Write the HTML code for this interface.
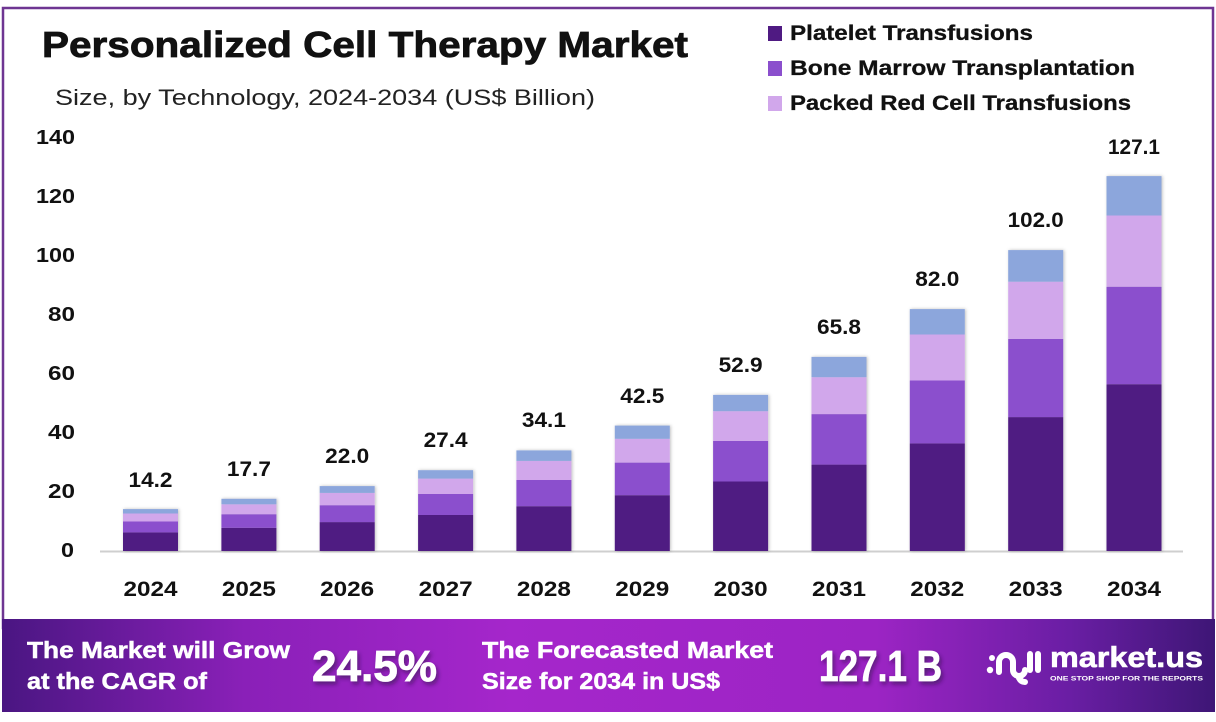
<!DOCTYPE html>
<html><head><meta charset="utf-8"><style>
html,body{margin:0;padding:0;background:#fff;}
svg{display:block;}
text{font-family:"Liberation Sans",sans-serif;}
</style></head><body>
<svg width="1216" height="722" viewBox="0 0 1216 722" xmlns="http://www.w3.org/2000/svg">
<defs>
<linearGradient id="fg" x1="0" y1="0" x2="1" y2="0">
<stop offset="0" stop-color="#4a1682"/>
<stop offset="0.2" stop-color="#8a20b8"/>
<stop offset="0.42" stop-color="#a526cb"/>
<stop offset="0.72" stop-color="#9c24c4"/>
<stop offset="0.88" stop-color="#6a1ea4"/>
<stop offset="1" stop-color="#3e1676"/>
</linearGradient>
<filter id="sh" x="-20%" y="-5%" width="140%" height="110%">
<feDropShadow dx="1" dy="0" stdDeviation="1.5" flood-color="#000" flood-opacity="0.25"/>
</filter>
<filter id="ts" x="-10%" y="-20%" width="130%" height="160%">
<feDropShadow dx="2" dy="3" stdDeviation="2" flood-color="#2a0a40" flood-opacity="0.55"/>
</filter>
</defs>
<rect x="0" y="0" width="1216" height="722" fill="#fff"/>
<!-- frame -->
<rect x="3" y="8" width="1210" height="620" fill="none" stroke="#6e3592" stroke-width="2.5"/>

<!-- title -->
<text x="42" y="57" font-size="36" font-weight="bold" fill="#111" stroke="#111" stroke-width="0.8" textLength="646" lengthAdjust="spacingAndGlyphs">Personalized Cell Therapy Market</text>
<text x="55" y="105" font-size="22" fill="#222" textLength="540" lengthAdjust="spacingAndGlyphs">Size, by Technology, 2024-2034 (US$ Billion)</text>

<!-- legend -->
<rect x="768" y="26" width="14" height="15" fill="#4f1a82"/>
<text x="790" y="40" font-size="21" font-weight="bold" fill="#111" stroke="#111" stroke-width="0.3" textLength="243" lengthAdjust="spacingAndGlyphs">Platelet Transfusions</text>
<rect x="768" y="61" width="14" height="15" fill="#8b4fcd"/>
<text x="790" y="75" font-size="21" font-weight="bold" fill="#111" stroke="#111" stroke-width="0.3" textLength="345" lengthAdjust="spacingAndGlyphs">Bone Marrow Transplantation</text>
<rect x="768" y="96" width="14" height="15" fill="#d1a7eb"/>
<text x="790" y="110" font-size="21" font-weight="bold" fill="#111" stroke="#111" stroke-width="0.3" textLength="341" lengthAdjust="spacingAndGlyphs">Packed Red Cell Transfusions</text>

<!-- y axis labels -->
<g font-size="20" font-weight="bold" fill="#111">
<text x="36" y="144" textLength="39" lengthAdjust="spacingAndGlyphs">140</text>
<text x="36" y="203" textLength="39" lengthAdjust="spacingAndGlyphs">120</text>
<text x="36" y="262" textLength="39" lengthAdjust="spacingAndGlyphs">100</text>
<text x="48" y="321" textLength="27" lengthAdjust="spacingAndGlyphs">80</text>
<text x="48" y="380" textLength="27" lengthAdjust="spacingAndGlyphs">60</text>
<text x="48" y="439" textLength="27" lengthAdjust="spacingAndGlyphs">40</text>
<text x="48" y="498" textLength="27" lengthAdjust="spacingAndGlyphs">20</text>
<text x="61" y="557" textLength="13" lengthAdjust="spacingAndGlyphs">0</text>
</g>

<!-- axis line -->
<line x1="100" y1="551.5" x2="1183" y2="551.5" stroke="#cfcfcf" stroke-width="2"/>

<!-- bars -->
<g filter="url(#sh)">
<rect x="123" y="532.4" width="55" height="18.6" fill="#4f1a82"/>
<rect x="123" y="521.5" width="55" height="10.9" fill="#8b4fcd"/>
<rect x="123" y="513.5" width="55" height="8.0" fill="#d1a7eb"/>
<rect x="123" y="509.1" width="55" height="4.4" fill="#8ca6dc"/>
<rect x="221.4" y="527.8" width="55" height="23.2" fill="#4f1a82"/>
<rect x="221.4" y="514.2" width="55" height="13.6" fill="#8b4fcd"/>
<rect x="221.4" y="504.3" width="55" height="9.9" fill="#d1a7eb"/>
<rect x="221.4" y="498.8" width="55" height="5.5" fill="#8ca6dc"/>
<rect x="319.7" y="522.1" width="55" height="28.9" fill="#4f1a82"/>
<rect x="319.7" y="505.2" width="55" height="16.9" fill="#8b4fcd"/>
<rect x="319.7" y="492.9" width="55" height="12.3" fill="#d1a7eb"/>
<rect x="319.7" y="486.1" width="55" height="6.8" fill="#8ca6dc"/>
<rect x="418.1" y="515.0" width="55" height="36.0" fill="#4f1a82"/>
<rect x="418.1" y="494.0" width="55" height="21.0" fill="#8b4fcd"/>
<rect x="418.1" y="478.6" width="55" height="15.4" fill="#d1a7eb"/>
<rect x="418.1" y="470.2" width="55" height="8.4" fill="#8ca6dc"/>
<rect x="516.4" y="506.2" width="55" height="44.8" fill="#4f1a82"/>
<rect x="516.4" y="480.0" width="55" height="26.2" fill="#8b4fcd"/>
<rect x="516.4" y="460.9" width="55" height="19.1" fill="#d1a7eb"/>
<rect x="516.4" y="450.4" width="55" height="10.5" fill="#8ca6dc"/>
<rect x="614.8" y="495.2" width="55" height="55.8" fill="#4f1a82"/>
<rect x="614.8" y="462.6" width="55" height="32.6" fill="#8b4fcd"/>
<rect x="614.8" y="438.8" width="55" height="23.8" fill="#d1a7eb"/>
<rect x="614.8" y="425.6" width="55" height="13.2" fill="#8ca6dc"/>
<rect x="713.1" y="481.5" width="55" height="69.5" fill="#4f1a82"/>
<rect x="713.1" y="440.9" width="55" height="40.6" fill="#8b4fcd"/>
<rect x="713.1" y="411.2" width="55" height="29.7" fill="#d1a7eb"/>
<rect x="713.1" y="394.9" width="55" height="16.3" fill="#8ca6dc"/>
<rect x="811.5" y="464.6" width="55" height="86.4" fill="#4f1a82"/>
<rect x="811.5" y="414.1" width="55" height="50.5" fill="#8b4fcd"/>
<rect x="811.5" y="377.2" width="55" height="36.9" fill="#d1a7eb"/>
<rect x="811.5" y="356.9" width="55" height="20.3" fill="#8ca6dc"/>
<rect x="909.8" y="443.4" width="55" height="107.6" fill="#4f1a82"/>
<rect x="909.8" y="380.5" width="55" height="62.9" fill="#8b4fcd"/>
<rect x="909.8" y="334.5" width="55" height="46.0" fill="#d1a7eb"/>
<rect x="909.8" y="309.1" width="55" height="25.4" fill="#8ca6dc"/>
<rect x="1008.2" y="417.1" width="55" height="133.9" fill="#4f1a82"/>
<rect x="1008.2" y="338.9" width="55" height="78.2" fill="#8b4fcd"/>
<rect x="1008.2" y="281.7" width="55" height="57.2" fill="#d1a7eb"/>
<rect x="1008.2" y="250.1" width="55" height="31.6" fill="#8ca6dc"/>
<rect x="1106.5" y="384.2" width="55" height="166.8" fill="#4f1a82"/>
<rect x="1106.5" y="286.7" width="55" height="97.5" fill="#8b4fcd"/>
<rect x="1106.5" y="215.5" width="55" height="71.2" fill="#d1a7eb"/>
<rect x="1106.5" y="176.1" width="55" height="39.4" fill="#8ca6dc"/>
</g>

<!-- value labels -->
<g font-size="21" font-weight="bold" fill="#111">
<text x="128.5" y="487" textLength="44" lengthAdjust="spacingAndGlyphs">14.2</text>
<text x="226.9" y="476" textLength="44" lengthAdjust="spacingAndGlyphs">17.7</text>
<text x="325.2" y="463" textLength="44" lengthAdjust="spacingAndGlyphs">22.0</text>
<text x="423.6" y="447" textLength="44" lengthAdjust="spacingAndGlyphs">27.4</text>
<text x="521.9" y="427" textLength="44" lengthAdjust="spacingAndGlyphs">34.1</text>
<text x="620.3" y="403" textLength="44" lengthAdjust="spacingAndGlyphs">42.5</text>
<text x="718.6" y="372" textLength="44" lengthAdjust="spacingAndGlyphs">52.9</text>
<text x="817.0" y="334" textLength="44" lengthAdjust="spacingAndGlyphs">65.8</text>
<text x="915.3" y="286" textLength="44" lengthAdjust="spacingAndGlyphs">82.0</text>
<text x="1007.7" y="227" textLength="56" lengthAdjust="spacingAndGlyphs">102.0</text>
<text x="1108.0" y="154" textLength="52" lengthAdjust="spacingAndGlyphs">127.1</text>
</g>

<!-- x labels -->
<g font-size="21" font-weight="bold" fill="#111">
<text x="123.5" y="596" textLength="54" lengthAdjust="spacingAndGlyphs">2024</text>
<text x="221.9" y="596" textLength="54" lengthAdjust="spacingAndGlyphs">2025</text>
<text x="320.2" y="596" textLength="54" lengthAdjust="spacingAndGlyphs">2026</text>
<text x="418.6" y="596" textLength="54" lengthAdjust="spacingAndGlyphs">2027</text>
<text x="516.9" y="596" textLength="54" lengthAdjust="spacingAndGlyphs">2028</text>
<text x="615.3" y="596" textLength="54" lengthAdjust="spacingAndGlyphs">2029</text>
<text x="713.6" y="596" textLength="54" lengthAdjust="spacingAndGlyphs">2030</text>
<text x="812.0" y="596" textLength="54" lengthAdjust="spacingAndGlyphs">2031</text>
<text x="910.3" y="596" textLength="54" lengthAdjust="spacingAndGlyphs">2032</text>
<text x="1008.7" y="596" textLength="54" lengthAdjust="spacingAndGlyphs">2033</text>
<text x="1107.0" y="596" textLength="54" lengthAdjust="spacingAndGlyphs">2034</text>
</g>

<!-- footer -->
<rect x="2" y="619" width="1213" height="93" fill="url(#fg)"/>
<g fill="#fff" font-weight="bold" stroke="#fff">
<text x="27" y="658" font-size="23" stroke-width="0.5" textLength="263" lengthAdjust="spacingAndGlyphs">The Market will Grow</text>
<text x="27" y="689" font-size="23" stroke-width="0.5" textLength="180" lengthAdjust="spacingAndGlyphs">at the CAGR of</text>
<text x="312" y="681" font-size="44" stroke-width="0.8" textLength="125" lengthAdjust="spacingAndGlyphs" filter="url(#ts)">24.5%</text>
<text x="482" y="658" font-size="23" stroke-width="0.5" textLength="291" lengthAdjust="spacingAndGlyphs">The Forecasted Market</text>
<text x="482" y="689" font-size="23" stroke-width="0.5" textLength="238" lengthAdjust="spacingAndGlyphs">Size for 2034 in US$</text>
<text x="819" y="681" font-size="44" stroke-width="0.8" textLength="123" lengthAdjust="spacingAndGlyphs" filter="url(#ts)">127.1 B</text>
<text x="1050" y="667" font-size="29" stroke-width="0.6" textLength="153" lengthAdjust="spacingAndGlyphs">market.us</text>
<text x="1050" y="680.5" font-size="6.5" stroke-width="0" textLength="153" lengthAdjust="spacingAndGlyphs">ONE STOP SHOP FOR THE REPORTS</text>
</g>
<!-- logo icon -->
<g fill="none" stroke="#fff" stroke-width="6" stroke-linecap="round">
<path d="M999 672 V662 a7 7 0 0 1 14 0 V670 a6 6 0 0 0 12 0"/>
<path d="M1030 654 V670"/>
<path d="M1038 654 V670"/>
<path d="M1019 678 q2 4 6 4"/>
</g>
<circle cx="990" cy="670" r="3.2" fill="#fff"/>
<circle cx="992" cy="658" r="3" fill="#fff"/>
</svg>
</body></html>
